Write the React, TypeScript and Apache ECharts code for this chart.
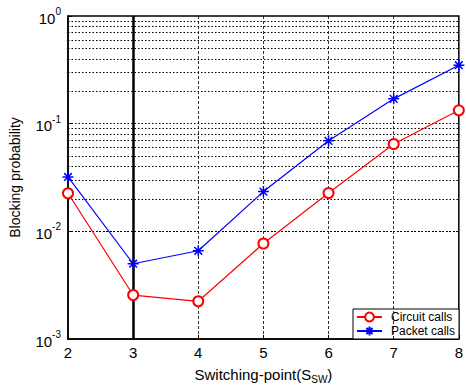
import React, { useEffect, useRef } from "react";
import * as echarts from "echarts";

const xValues = [2, 3, 4, 5, 6, 7, 8];
const circuitCalls = [0.0226, 0.00256, 0.00224, 0.0077, 0.0227, 0.0647, 0.133];
const packetCalls = [0.032, 0.005, 0.0066, 0.0234, 0.0693, 0.17, 0.349];
const yGridValues = [
  0.002, 0.003, 0.004, 0.005, 0.006, 0.007, 0.008, 0.009, 0.01,
  0.02, 0.03, 0.04, 0.05, 0.06, 0.07, 0.08, 0.09, 0.1,
  0.2, 0.3, 0.4, 0.5, 0.6, 0.7, 0.8, 0.9,
];
const xGridValues = [4, 5, 6, 7];
const thickLineX = 3;

const starPath =
  "path://M5,0L5,10M0,5L10,5M1.5,1.5L8.5,8.5M1.5,8.5L8.5,1.5";

export default function App() {
  const ref = useRef<HTMLDivElement>(null);
  useEffect(() => {
    document.body.style.margin = "0";
    if (!ref.current) return;
    const chart = echarts.init(ref.current, null, { renderer: "svg" });
    const font = "Liberation Sans, Arial, sans-serif";
    chart.setOption({
      animation: false,
      backgroundColor: "#fff",
      textStyle: { fontFamily: font },
      grid: {
        left: 64,
        top: 16,
        right: 6,
        bottom: 45,
        show: true,
        borderColor: "#000",
        borderWidth: 1.5,
        backgroundColor: "transparent",
      },
      legend: {
        orient: "vertical",
        left: 353,
        top: 309,
        backgroundColor: "#fff",
        borderColor: "#000",
        borderWidth: 1,
        padding: [2, 4, 2, 3],
        itemGap: 2,
        itemWidth: 25,
        itemHeight: 11,
        textStyle: { fontFamily: font, fontSize: 12, color: "#000", padding: [0, 0, 0, 4] },
        data: ["Circuit calls", "Packet calls"],
      },
      xAxis: {
        type: "value",
        min: 2,
        max: 8,
        interval: 1,
        name: "{m|Switching-point(S}{sub|SW}{m|)}",
        nameLocation: "middle",
        nameGap: 28,
        nameTextStyle: {
          fontFamily: font,
          fontSize: 15,
          color: "#000",
          rich: {
            m: { fontSize: 15, fontFamily: font, color: "#000", verticalAlign: "top" },
            sub: { fontSize: 10, fontFamily: font, color: "#000", verticalAlign: "bottom", padding: [7, 0, 0, 0] },
          },
        },
        axisLine: { lineStyle: { color: "#000", width: 1.5 } },
        axisTick: { inside: true, length: 4, lineStyle: { color: "#000" } },
        axisLabel: { color: "#000", fontSize: 15, margin: 6, fontFamily: font },
        splitLine: { show: false },
      },
      yAxis: {
        type: "log",
        logBase: 10,
        min: 0.001,
        max: 1,
        name: "Blocking probability",
        nameLocation: "middle",
        nameGap: 46,
        nameTextStyle: { fontFamily: font, fontSize: 14, color: "#000" },
        axisLine: { show: true, lineStyle: { color: "#000", width: 1.5 } },
        axisTick: { inside: true, length: 4, lineStyle: { color: "#000" } },
        axisLabel: {
          color: "#000",
          margin: 7,
          formatter: (v: number) => {
            const e = Math.round(Math.log10(v));
            return `{b|10}{s|${e}}`;
          },
          rich: {
            b: { fontSize: 15, fontFamily: font, color: "#000", verticalAlign: "bottom", padding: [4, 0, 0, 0] },
            s: { fontSize: 10, fontFamily: font, color: "#000", verticalAlign: "top" },
          },
        },
        splitLine: { show: false },
      },
      series: [
        {
          name: "grid-h",
          type: "line",
          data: [],
          silent: true,
          markLine: {
            silent: true,
            symbol: "none",
            label: { show: false },
            lineStyle: { color: "#000", type: [1.5, 2], width: 1.1 },
            data: yGridValues.map((v) => ({ yAxis: v })),
          },
        },
        {
          name: "grid-v",
          type: "line",
          data: [],
          silent: true,
          markLine: {
            silent: true,
            symbol: "none",
            label: { show: false },
            lineStyle: { color: "#000", type: [3, 2], width: 0.8 },
            data: xGridValues.map((v) => ({ xAxis: v })),
          },
        },
        {
          name: "thick",
          type: "line",
          data: [],
          silent: true,
          markLine: {
            silent: true,
            symbol: "none",
            label: { show: false },
            lineStyle: { color: "#000", type: "solid", width: 2.5 },
            data: [{ xAxis: thickLineX }],
          },
        },
        {
          name: "Circuit calls",
          type: "line",
          data: xValues.map((x, i) => [x, circuitCalls[i]]),
          color: "#ff0000",
          lineStyle: { color: "#ff0000", width: 1.2 },
          symbol: "emptyCircle",
          symbolSize: 10,
          itemStyle: { color: "#ff0000", borderColor: "#ff0000", borderWidth: 1.2 },
          z: 5,
        },
        {
          name: "Packet calls",
          type: "line",
          data: xValues.map((x, i) => [x, packetCalls[i]]),
          color: "#0000ff",
          lineStyle: { color: "#0000ff", width: 1.2 },
          symbol: starPath,
          symbolSize: 11,
          itemStyle: { color: "#0000ff", borderColor: "#0000ff", borderWidth: 1.5 },
          z: 6,
        },
      ],
    });
    return () => chart.dispose();
  }, []);
  return <div ref={ref} style={{ width: 466, height: 389 }} />;
}
